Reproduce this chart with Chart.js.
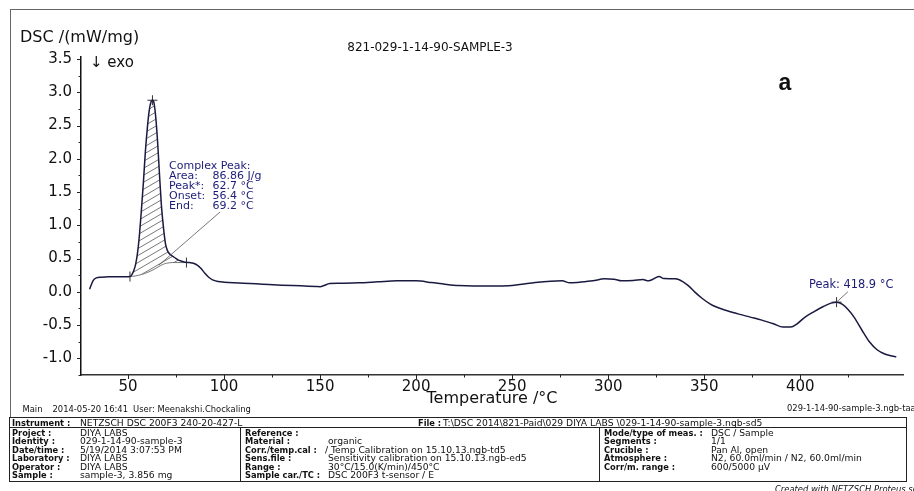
<!DOCTYPE html>
<html><head><meta charset="utf-8">
<script src="https://cdn.jsdelivr.net/npm/chart.js@4.4.1/dist/chart.umd.min.js"></script>
<style>
html,body{margin:0;padding:0;background:#fff;overflow:hidden;width:914px;height:491px;}
#wrap{position:relative;width:914px;height:491px;overflow:hidden;}
canvas{position:absolute;left:0;top:0;}
.t{position:absolute;font-family:'DejaVu Sans',sans-serif;font-size:9.2px;line-height:10px;height:10px;white-space:nowrap;color:#111;}
.b{font-weight:bold;font-size:8.3px;}
.frame{position:absolute;left:10px;top:9px;width:930px;height:408px;border-left:1.5px solid #666;border-top:1.5px solid #666;}
.hl{position:absolute;height:1px;background:#222;}
.vl{position:absolute;width:1px;background:#222;}
</style>
</head><body>
<div id="wrap">
<div class="frame"></div>
<canvas id="c" width="914" height="491"></canvas>
</div>
<script>
// ---- data ----
const temps = [30,31.8,33.5,36,40,45,49,51,52,53,54,55,56,57,58,59,60,61,62,62.7,63.5,64.5,65.5,66.5,67.5,68.5,69.5,70.5,72,74,76,78,80,82,84,86,88,90,92,94,97,100,105,110,120,130,140,148,150,152,155,160,170,180,190,200,208,215,222,230,240,248,255,262,270,276,280,285,292,298,303,307,313,318,321,324,326.5,329,335,339,342,345,349,353,356,362,368,374,380,386,391,395,398,402,407,412,416,419,422,425,428,432,436,440,444,447,450];
const dsc = [0.04,0.17,0.21,0.22,0.225,0.225,0.225,0.23,0.26,0.32,0.42,0.6,0.88,1.25,1.65,2.1,2.45,2.72,2.86,2.88,2.84,2.6,2.2,1.7,1.25,0.95,0.72,0.62,0.56,0.52,0.48,0.46,0.445,0.44,0.43,0.40,0.35,0.28,0.22,0.18,0.155,0.145,0.135,0.13,0.115,0.1,0.09,0.08,0.078,0.095,0.125,0.13,0.135,0.15,0.165,0.165,0.14,0.115,0.095,0.088,0.088,0.092,0.115,0.14,0.16,0.165,0.135,0.145,0.165,0.195,0.19,0.165,0.17,0.185,0.165,0.2,0.23,0.2,0.195,0.15,0.085,0.0,-0.1,-0.18,-0.225,-0.285,-0.335,-0.38,-0.425,-0.48,-0.53,-0.53,-0.49,-0.39,-0.3,-0.22,-0.17,-0.155,-0.19,-0.27,-0.38,-0.57,-0.75,-0.87,-0.935,-0.96,-0.975];
const baseT = [51,54,57,60,63,66,68,70,73,76,80.4];
const baseV = [0.23,0.24,0.26,0.29,0.33,0.38,0.41,0.43,0.44,0.44,0.44];
const peakMarkT = [62.7,418.9];
const peakMarkV = [2.88,-0.155];
const boundT = [51,80.4];
const boundV = [0.23,0.44];
const xTicks = [50,100,150,200,250,300,350,400];
const xMinor = [75,125,175,225,275,325,375,425];
const yTicks = [-1.0,-0.5,0.0,0.5,1.0,1.5,2.0,2.5,3.0,3.5];
const yMinor = [-1.25,-0.75,-0.25,0.25,0.75,1.25,1.75,2.25,2.75,3.25];
const peakInfoLabels = ['Area:','Peak*:','Onset:','End:'];
const peakInfoValues = ['86.86 J/g','62.7 °C','56.4 °C','69.2 °C'];
const peak2Label = 'Peak: 418.9 °C';
const complexLeaderT = [66,97.9];
const complexLeaderV = [0.40,1.2];
const peak2LeaderT = [418.9,424.8];
const peak2LeaderV = [-0.155,0.0];

// ---- hatch pattern ----
function hatch(){
  const c=document.createElement('canvas'); c.width=12; c.height=7;
  const g=c.getContext('2d');
  g.strokeStyle='#555'; g.lineWidth=0.8;
  g.beginPath(); g.moveTo(-12,14); g.lineTo(12,0); g.moveTo(0,14); g.lineTo(24,0); g.moveTo(-12,7); g.lineTo(12,-7); g.stroke();
  return g.createPattern(c,'repeat');
}
const pat = hatch();

const deco = {
  id:'deco',
  afterDraw(chart){
    const {ctx, chartArea:a, scales:{x,y}} = chart;
    ctx.save();
    // tick marks
    ctx.strokeStyle='#222'; ctx.lineWidth=1;
    ctx.beginPath();
    yTicks.forEach(v=>{const p=Math.round(y.getPixelForValue(v))+0.5; ctx.moveTo(a.left-4,p); ctx.lineTo(a.left,p);});
    yMinor.forEach(v=>{const p=Math.round(y.getPixelForValue(v))+0.5; ctx.moveTo(a.left-2.5,p); ctx.lineTo(a.left,p);});
    xTicks.forEach(v=>{const p=Math.round(x.getPixelForValue(v))+0.5; ctx.moveTo(p,a.bottom); ctx.lineTo(p,a.bottom+4);});
    xMinor.forEach(v=>{const p=Math.round(x.getPixelForValue(v))+0.5; ctx.moveTo(p,a.bottom); ctx.lineTo(p,a.bottom+2.5);});
    ctx.stroke();
    // leader lines
    ctx.strokeStyle='#555'; ctx.lineWidth=0.8;
    ctx.beginPath();
    ctx.moveTo(x.getPixelForValue(complexLeaderT[0]), y.getPixelForValue(complexLeaderV[0]));
    ctx.lineTo(x.getPixelForValue(complexLeaderT[1]), y.getPixelForValue(complexLeaderV[1]));
    ctx.moveTo(x.getPixelForValue(peak2LeaderT[0]), y.getPixelForValue(peak2LeaderV[0]));
    ctx.lineTo(x.getPixelForValue(peak2LeaderT[1]), y.getPixelForValue(peak2LeaderV[1]));
    ctx.stroke();
    // texts
    ctx.fillStyle='#111'; ctx.textBaseline='middle'; ctx.textAlign='left';
    ctx.font='16px "DejaVu Sans"';
    ctx.fillText('DSC /(mW/mg)', 20, 38);
    ctx.font='15px "DejaVu Sans"';
    ctx.fillText('\u2193 exo', 90, 63);
    ctx.font='12px "DejaVu Sans"';
    ctx.textAlign='center';
    ctx.fillText('821-029-1-14-90-SAMPLE-3', 430, 48);
    ctx.font='16px "DejaVu Sans"';
    ctx.fillText('Temperature /°C', (a.left+a.right)/2, 399);
    ctx.font='bold 23px "Liberation Sans"';
    ctx.fillText('a', 785, 84);
    ctx.textAlign='left';
    ctx.fillStyle='#1c1c78';
    ctx.font='11px "DejaVu Sans"';
    ctx.fillText('Complex Peak:', 169, 166);
    peakInfoLabels.forEach((s,i)=>{
      ctx.fillText(s, 169, 176+i*10);
      ctx.fillText(peakInfoValues[i], 212.5, 176+i*10);
    });
    ctx.font='11.4px "DejaVu Sans"';
    ctx.fillText(peak2Label, 809, 285);
    ctx.restore();
  }
};

const mainData = temps.map((t,i)=>({x:t,y:dsc[i]}));
const baseData = baseT.map((t,i)=>({x:t,y:baseV[i]}));
const peakData = peakMarkT.map((t,i)=>({x:t,y:peakMarkV[i]}));
const boundData = boundT.map((t,i)=>({x:t,y:boundV[i]}));

new Chart(document.getElementById('c'), {
  type:'line',
  data:{datasets:[
    {data:mainData, borderColor:'#1a1a40', borderWidth:1.5, pointRadius:0, tension:0.3, cubicInterpolationMode:'monotone',
     fill:{target:1, above:pat, below:pat}},
    {data:baseData, borderColor:'#666', borderWidth:0.9, pointRadius:0, tension:0.3, fill:false},
    {data:peakData, showLine:false, pointStyle:'cross', pointRadius:5, borderColor:'#333', borderWidth:1},
    {data:boundData, showLine:false, pointStyle:'line', rotation:90, pointRadius:5, borderColor:'#333', borderWidth:1}
  ]},
  options:{
    responsive:false, animation:false, events:[],
    layout:{padding:{top:57,right:11,left:0,bottom:0}},
    plugins:{legend:{display:false}, tooltip:{enabled:false}},
    scales:{
      x:{type:'linear', min:25.5, max:453.5,
        afterBuildTicks:s=>{s.ticks=xTicks.map(v=>({value:v}));},
        afterFit:s=>{s.height=116;},
        grid:{display:false, drawTicks:false},
        border:{display:true, color:'#333', width:1.5},
        ticks:{padding:3, autoSkip:false, maxRotation:0, color:'#111', font:{family:'DejaVu Sans', size:15}, callback:v=>String(v)}},
      y:{type:'linear', min:-1.25, max:3.53,
        afterBuildTicks:s=>{s.ticks=yTicks.map(v=>({value:v}));},
        afterFit:s=>{s.width=81;},
        grid:{display:false, drawTicks:false},
        border:{display:true, color:'#111', width:1.5},
        ticks:{padding:9, color:'#111', font:{family:'DejaVu Sans', size:15}, callback:v=>v.toFixed(1)}}
    }
  },
  plugins:[deco]
});

// ---- footer and info table (HTML text) ----
const wrap=document.getElementById('wrap');
function T(txt,x,yc,cls,extra){const d=document.createElement('div'); d.className='t '+(cls||''); d.textContent=txt; d.style.left=x+'px'; d.style.top=(yc-5)+'px'; if(extra) Object.assign(d.style,extra); wrap.appendChild(d); return d;}
function H(x,yy,w){const d=document.createElement('div'); d.className='hl'; d.style.left=x+'px'; d.style.top=yy+'px'; d.style.width=w+'px'; wrap.appendChild(d);}
function V(xx,yy,h){const d=document.createElement('div'); d.className='vl'; d.style.left=xx+'px'; d.style.top=yy+'px'; d.style.height=h+'px'; wrap.appendChild(d);}
T('Main',22.5,409,'',{fontSize:'8.4px'});
T('2014-05-20 16:41',52.5,409,'',{fontSize:'8.4px'});
T('User: Meenakshi.Chockaling',133,409,'',{fontSize:'8.4px'});
T('029-1-14-90-sample-3.ngb-taa',787,408,'',{fontSize:'8.4px'});
H(9,417,898); H(9,427,898); H(9,481,898); V(9,417,65); V(906,417,65); V(240,427,54); V(599,427,54);
T('Instrument :',12,422.5,'b'); T('NETZSCH DSC 200F3 240-20-427-L',80,422.5);
T('File :',418,422.5,'b'); T('T:\\DSC 2014\\821-Paid\\029 DIYA LABS \\029-1-14-90-sample-3.ngb-sd5',443,422.5);
const rowsY=[432.5,441,449.5,458,466.5,475];
const c1L=['Project :','Identity :','Date/time :','Laboratory :','Operator :','Sample :'];
const c1V=['DIYA LABS','029-1-14-90-sample-3','5/19/2014 3:07:53 PM','DIYA LABS','DIYA LABS','sample-3, 3.856 mg'];
const c2L=['Reference :','Material :','Corr./temp.cal :','Sens.file :','Range :','Sample car./TC :'];
const c2V=['','organic','/ Temp Calibration on 15.10.13.ngb-td5','Sensitivity calibration on 15.10.13.ngb-ed5','30°C/15.0(K/min)/450°C','DSC 200F3 t-sensor / E'];
const c3L=['Mode/type of meas. :','Segments :','Crucible :','Atmosphere :','Corr/m. range :'];
const c3V=['DSC / Sample','1/1','Pan Al, open','N2, 60.0ml/min / N2, 60.0ml/min','600/5000 µV'];
rowsY.forEach((yc,i)=>{
  T(c1L[i],12,yc,'b'); T(c1V[i],80,yc);
  T(c2L[i],245,yc,'b'); if(c2V[i]) T(c2V[i],i==2?325:328,yc);
  if(i<c3L.length){T(c3L[i],604,yc,'b'); T(c3V[i],711,yc);}
});
T('Created with NETZSCH Proteus software',775,489,'',{fontStyle:'italic',fontSize:'8.4px'});
</script>
</body></html>
